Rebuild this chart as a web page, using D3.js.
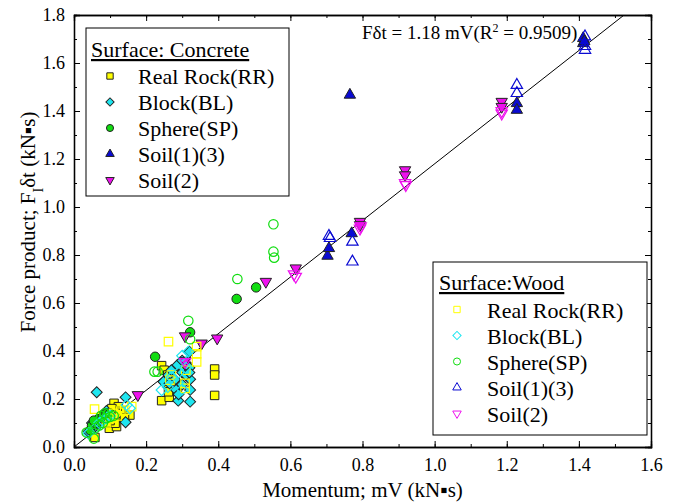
<!DOCTYPE html>
<html>
<head>
<meta charset="utf-8">
<script src="https://cdn.jsdelivr.net/npm/d3@7"></script>
<style>
  body { margin: 0; background: #fff; }
</style>
</head>
<body>
<svg id="chart" width="675" height="503"></svg>
<script>
// ---- data: [momentum mV, force product F dt] ----
const concreteRR = [[0.111,0.182],[0.123,0.168],[0.109,0.133],[0.098,0.078],[0.118,0.085],[0.155,0.133],
  [0.132,0.12],[0.114,0.099],[0.058,0.04],[0.13,0.15],[0.1,0.11],[0.12,0.14],[0.105,0.16],[0.14,0.12],[0.09,0.1],
  [0.243,0.339],[0.243,0.193],[0.264,0.207],[0.25,0.32],[0.262,0.265],[0.262,0.23],[0.26,0.3],[0.3,0.33],
  [0.39,0.325],[0.39,0.3],[0.39,0.215]];
const concreteBL = [[0.063,0.228],[0.143,0.207],[0.143,0.103],[0.05,0.1],[0.06,0.09],[0.07,0.12],[0.08,0.13],
  [0.085,0.14],[0.09,0.15],[0.04,0.064],[0.055,0.08],[0.075,0.11],[0.063,0.099],
  [0.287,0.342],[0.32,0.397],[0.322,0.189],[0.289,0.193],[0.322,0.238],[0.322,0.282],[0.283,0.238],[0.248,0.272],
  [0.262,0.3],[0.3,0.31],[0.31,0.35],[0.32,0.33],[0.28,0.28],[0.3,0.26],[0.27,0.32],[0.29,0.22],[0.31,0.3],
  [0.265,0.265],[0.32,0.31],[0.3,0.36]];
const concreteSP = [[0.045,0.07],[0.05,0.09],[0.06,0.1],[0.07,0.12],[0.08,0.13],[0.09,0.14],[0.1,0.14],
  [0.055,0.11],[0.225,0.376],[0.322,0.478],[0.451,0.617],[0.505,0.665]];
const concreteS13 = [[0.703,0.796],[0.707,0.828],[0.77,0.89],[0.765,1.467],[1.228,1.432],[1.228,1.404],
  [1.412,1.703],[1.412,1.682],[1.415,1.69]];
const concreteS2 = [[0.177,0.217],[0.308,0.462],[0.354,0.432],[0.397,0.453],[0.308,0.36],[0.532,0.689],
  [0.615,0.745],[0.793,0.939],[0.793,0.925],[0.918,1.154],[0.918,1.133],[1.186,1.439],[1.186,1.418]];

const woodRR = [[0.057,0.158],[0.262,0.439],[0.34,0.418],[0.34,0.388],[0.34,0.355],[0.266,0.279],[0.308,0.265],
  [0.308,0.244],[0.27,0.3],[0.31,0.32],[0.1,0.12],[0.12,0.13],[0.13,0.15],[0.11,0.14],[0.09,0.1],[0.141,0.154],
  [0.16,0.168]];
const woodBL = [[0.317,0.397],[0.243,0.237],[0.3,0.38],[0.31,0.33],[0.27,0.29],[0.29,0.31],[0.06,0.08],
  [0.07,0.1],[0.08,0.11],[0.09,0.12],[0.1,0.13],[0.04,0.057],[0.146,0.175],[0.155,0.161],[0.3,0.24],[0.26,0.25]];
const woodSP = [[0.035,0.06],[0.055,0.035],[0.06,0.08],[0.07,0.09],[0.08,0.1],[0.09,0.12],[0.1,0.125],
  [0.11,0.13],[0.075,0.13],[0.085,0.14],[0.223,0.314],[0.232,0.314],[0.322,0.449],[0.317,0.526],
  [0.453,0.70],[0.553,0.928],[0.553,0.814],[0.555,0.789]];
const woodS13 = [[0.707,0.879],[0.71,0.87],[0.772,0.855],[0.772,0.772],[1.228,1.508],[1.228,1.474],
  [1.417,1.71],[1.417,1.654],[1.417,1.67]];
const woodS2 = [[0.308,0.355],[0.615,0.71],[0.61,0.72],[0.793,0.911],[0.795,0.92],[0.92,1.092],[0.918,1.1],
  [1.186,1.39],[1.186,1.4]];

const labels = ["Real Rock(RR)", "Block(BL)", "Sphere(SP)", "Soil(1)(3)", "Soil(2)"];
const colors = ["#ffff00", "#1ee6f0", "#11dd11", "#0a0ad2", "#ee11ee"];
const shapes = ["square", "diamond", "circle", "up", "down"];
const slope = 1.18;
const xTicks = [0, 0.2, 0.4, 0.6, 0.8, 1.0, 1.2, 1.4, 1.6];
const yTicks = [0, 0.2, 0.4, 0.6, 0.8, 1.0, 1.2, 1.4, 1.6, 1.8];

const concrete = [concreteRR, concreteBL, concreteSP, concreteS13, concreteS2];
const wood = [woodRR, woodBL, woodSP, woodS13, woodS2];

const FONT = "Liberation Serif";

const svg = d3.select("#chart");
const margin = {left: 74, right: 24, top: 15, bottom: 56};
const W = 675 - margin.left - margin.right;
const H = 503 - margin.top - margin.bottom;

const x = d3.scaleLinear().domain([0, 1.6]).range([0, W]);
const y = d3.scaleLinear().domain([0, 1.8]).range([H, 0]);

const g = svg.append("g").attr("transform", "translate(" + margin.left + "," + margin.top + ")");

// marker path builder
function marker(shape, k) {
  k = k || 1;
  if (shape == "square") return {d: d3.symbol(d3.symbolSquare, 72 * k * k)(), rot: 0};
  if (shape == "diamond") return {d: d3.symbol(d3.symbolSquare, 60 * k * k)(), rot: 45};
  if (shape == "circle") return {d: d3.symbol(d3.symbolCircle, 70 * k * k)(), rot: 0};
  if (shape == "up") return {d: d3.symbol(d3.symbolTriangle, 56 * k * k)(), rot: 0};
  return {d: d3.symbol(d3.symbolTriangle, 56 * k * k)(), rot: 180};
}

function drawSeries(data, i, filled) {
  let m = marker(shapes[i]);
  g.append("g").selectAll("path")
    .data(data)
    .enter()
    .append("path")
    .attr("d", m.d)
    .attr("transform", d => "translate(" + x(d[0]) + "," + y(d[1]) + ") rotate(" + m.rot + ")")
    .attr("fill", filled ? colors[i] : "none")
    .attr("stroke", filled ? "#222" : colors[i])
    .attr("stroke-width", filled ? 1 : 1.2);
}

// clip so the line stays inside the frame
svg.append("clipPath").attr("id", "clip")
  .append("rect").attr("width", W).attr("height", H);

// fit line
g.append("line")
  .attr("clip-path", "url(#clip)")
  .attr("x1", x(0)).attr("y1", y(0))
  .attr("x2", x(1.8 / slope)).attr("y2", y(1.8))
  .attr("stroke", "#000").attr("stroke-width", 1);

concrete.forEach((s, i) => drawSeries(s, i, true));
wood.forEach((s, i) => drawSeries(s, i, false));

// axes, ticks inside on all sides
function styleAxis(sel) {
  sel.attr("font-family", FONT).attr("font-size", 18);
  sel.selectAll("path").attr("stroke", "#000").attr("stroke-width", 1.3);
  sel.selectAll("line").attr("stroke", "#000").attr("stroke-width", 1);
  sel.selectAll("text").attr("fill", "#000");
}
let minorX = d3.range(0, 1.61, 0.1);
let minorY = d3.range(0, 1.81, 0.1);

g.append("g").attr("transform", "translate(0," + H + ")")
  .call(d3.axisBottom(x).tickValues(minorX).tickSize(-3).tickFormat(""))
  .call(styleAxis);
g.append("g").attr("transform", "translate(0," + H + ")")
  .call(d3.axisBottom(x).tickValues(xTicks).tickSize(-6).tickPadding(11).tickFormat(d3.format(".1f")))
  .call(styleAxis);
g.append("g")
  .call(d3.axisTop(x).tickValues(minorX).tickSize(-3).tickFormat(""))
  .call(styleAxis);
g.append("g")
  .call(d3.axisTop(x).tickValues(xTicks).tickSize(-6).tickFormat(""))
  .call(styleAxis);
g.append("g")
  .call(d3.axisLeft(y).tickValues(minorY).tickSize(-3).tickFormat(""))
  .call(styleAxis);
g.append("g")
  .call(d3.axisLeft(y).tickValues(yTicks).tickSize(-6).tickPadding(9).tickFormat(d3.format(".1f")))
  .call(styleAxis);
g.append("g").attr("transform", "translate(" + W + ",0)")
  .call(d3.axisRight(y).tickValues(minorY).tickSize(-3).tickFormat(""))
  .call(styleAxis);
g.append("g").attr("transform", "translate(" + W + ",0)")
  .call(d3.axisRight(y).tickValues(yTicks).tickSize(-6).tickFormat(""))
  .call(styleAxis);

// axis titles
svg.append("text")
  .attr("x", margin.left + W / 2).attr("y", 497)
  .attr("text-anchor", "middle")
  .attr("font-family", FONT)
  .attr("font-size", 21)
  .text("Momentum; mV (kN\u25AAs)");

let yl = svg.append("text")
  .attr("transform", "translate(35,222) rotate(-90)")
  .attr("text-anchor", "middle")
  .attr("font-family", FONT)
  .attr("font-size", 21);
yl.append("tspan").text("Force product; F");
yl.append("tspan").attr("baseline-shift", "sub").attr("font-size", 14).text("I");
yl.append("tspan").text("\u03B4t (kN\u25AAs)");

// equation
let eq = svg.append("text").attr("x", 362).attr("y", 39)
  .attr("font-family", FONT).attr("font-size", 19);
eq.append("tspan").text("F\u03B4t = 1.18 mV(R");
eq.append("tspan").attr("baseline-shift", "super").attr("font-size", 12).text("2");
eq.append("tspan").text(" = 0.9509)");

// legends
function legend(box, title, filled) {
  let lg = svg.append("g").attr("font-family", FONT);
  lg.append("rect")
    .attr("x", box.x).attr("y", box.y).attr("width", box.w).attr("height", box.h)
    .attr("fill", "#fff").attr("stroke", "#000").attr("stroke-width", 1);
  lg.append("text")
    .attr("x", box.tx).attr("y", box.ty)
    .attr("font-size", 22)
    .attr("text-decoration", "underline")
    .text(title);
  labels.forEach((lab, i) => {
    let cy = box.row0 + i * box.step;
    let m = marker(shapes[i], 0.75);
    lg.append("path")
      .attr("d", m.d)
      .attr("transform", "translate(" + box.mx + "," + cy + ") rotate(" + m.rot + ")")
      .attr("fill", filled ? colors[i] : "none")
      .attr("stroke", filled ? "#222" : colors[i])
      .attr("stroke-width", 1);
    lg.append("text")
      .attr("x", box.lx).attr("y", cy + 8)
      .attr("font-size", 22)
      .text(lab);
  });
}

legend({x: 86, y: 28, w: 203, h: 168, tx: 91, ty: 57, mx: 110, lx: 138, row0: 76, step: 26},
  "Surface: Concrete", true);
legend({x: 433, y: 262, w: 214, h: 173, tx: 439, ty: 290, mx: 457, lx: 487, row0: 309.5, step: 26},
  "Surface:Wood", false);
</script>
</body>
</html>
